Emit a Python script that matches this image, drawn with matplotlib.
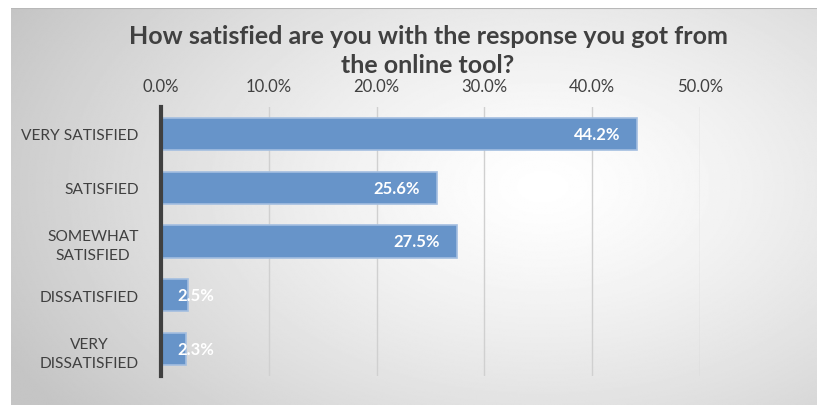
import sys

import numpy as np
import matplotlib.pyplot as plt

CATEGORIES = [
    "VERY SATISFIED",
    "SATISFIED",
    "SOMEWHAT\nSATISFIED",
    "DISSATISFIED",
    "VERY\nDISSATISFIED",
]
VALUES = [44.2, 25.6, 27.5, 2.5, 2.3]
X_TICKS = [0, 10, 20, 30, 40, 50]
TITLE = "How satisfied are you with the response you got from\nthe online tool?"

TEXT_COLOR = "#404040"
BAR_COLOR = "#6794C9"
BAR_EDGE = "#A3BEE0"


def main() -> int:
    """Main function."""
    plt.rcParams["font.family"] = ["Lato", "DejaVu Sans"]

    w, h = 817, 406
    fig = plt.figure(figsize=(w / 100, h / 100), dpi=100)
    fig.patch.set_facecolor("white")

    # Radial gradient background panel
    bg = fig.add_axes([11 / w, 0, (w - 11) / w, (h - 9) / h], zorder=0)
    gy, gx = np.mgrid[0:1:300j, 0:1:600j]
    dist = np.sqrt(((gx - 0.66) / 0.75) ** 2 + ((gy - 0.45) / 0.95) ** 2)
    shade = 1.0 - 0.23 * np.clip(dist, 0, 1) ** 1.3
    bg.imshow(shade, cmap="gray", vmin=0, vmax=1, aspect="auto",
              extent=[0, 1, 0, 1], interpolation="bilinear")
    bg.plot([0, 1], [0.999, 0.999], color="#B8B8B8", linewidth=1.5)
    bg.set_xlim(0, 1)
    bg.set_ylim(0, 1)
    bg.axis("off")

    left, right = 161 / w, 700 / w
    top, bottom = 1 - 108 / h, 1 - 377 / h
    ax = fig.add_axes([left, bottom, right - left, top - bottom], zorder=1)
    ax.patch.set_alpha(0)

    y = np.arange(len(CATEGORIES))
    ax.barh(y, VALUES, height=0.6, color=BAR_COLOR, edgecolor=BAR_EDGE,
            linewidth=1.2, zorder=3)
    ax.set_ylim(len(CATEGORIES) - 0.5, -0.5)
    ax.set_xlim(0, 50)

    ax.set_xticks(X_TICKS)
    ax.set_xticklabels([f"{t:.1f}%" for t in X_TICKS])
    ax.xaxis.tick_top()
    ax.tick_params(axis="x", length=0, pad=9, labelsize=12,
                   labelcolor=TEXT_COLOR)
    ax.set_yticks(y)
    ax.set_yticklabels(CATEGORIES, multialignment="center", linespacing=1.5)
    ax.tick_params(axis="y", length=0, pad=16, labelsize=11.2,
                   labelcolor=TEXT_COLOR)

    ax.grid(axis="x", color="#D0D0D0", linewidth=1, zorder=1)
    for side in ["top", "right", "bottom"]:
        ax.spines[side].set_visible(False)
    ax.spines["left"].set_color("#404040")
    ax.spines["left"].set_linewidth(3)
    ax.spines["left"].set_zorder(4)

    for yi, v in zip(y, VALUES):
        if v < 5:
            ax.text(1.5, yi, f"{v:.1f}%", ha="left", va="center",
                    color="white", fontsize=12, fontweight="bold", zorder=5)
        else:
            ax.text(v - 1.6, yi, f"{v:.1f}%", ha="right", va="center",
                    color="white", fontsize=12, fontweight="bold", zorder=5)

    fig.text(428 / w, 1 - 51 / h, TITLE, ha="center", va="center",
             fontsize=18, fontweight="bold", color=TEXT_COLOR,
             linespacing=1.3, zorder=2)

    fig.savefig("out.png", dpi=100)
    return 0


if __name__ == "__main__":
    sys.exit(main())
